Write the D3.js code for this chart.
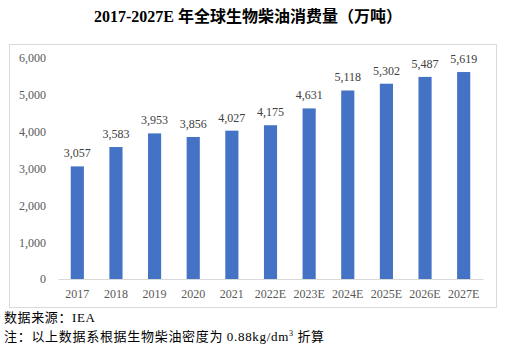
<!DOCTYPE html>
<html><head><meta charset="utf-8">
<script src="https://cdn.jsdelivr.net/npm/d3@7"></script>
<style>
body{margin:0;background:#fff;}
svg{display:block;}
</style></head>
<body>
<script>
const categories = ["2017","2018","2019","2020","2021","2022E","2023E","2024E","2025E","2026E","2027E"];
const values = [3057,3583,3953,3856,4027,4175,4631,5118,5302,5487,5619];
const yTicks = [0,1000,2000,3000,4000,5000,6000];

const W=507,H=350;
const svg=d3.select("body").append("svg").attr("width",W).attr("height",H);
const serif="'Liberation Serif','Times New Roman',serif";
const cjk="'Noto Sans CJK SC',sans-serif";

// title
const t=svg.append("text").attr("x",248).attr("y",22).attr("text-anchor","middle")
  .attr("font-size",16).attr("font-weight","bold").attr("fill","#000");
t.append("tspan").attr("font-family",serif).text("2017-2027E ");
t.append("tspan").attr("font-family",cjk).text("年全球生物柴油消费量（万吨）");

// frame
svg.append("rect").attr("x",9.5).attr("y",44.5).attr("width",487).attr("height",263)
  .attr("fill","none").attr("stroke","#d9d9d9");

const x=d3.scaleBand().domain(categories).range([58,483]).paddingInner(0.66).paddingOuter(0.33);
const y=d3.scaleLinear().domain([0,6000]).range([279,58]);

const yAxis=svg.append("g").attr("transform","translate(52,0)")
  .call(d3.axisLeft(y).tickValues(yTicks).tickSize(0).tickPadding(6).tickFormat(d3.format(",")));
yAxis.select(".domain").remove();
yAxis.selectAll("text").attr("font-family",serif).attr("font-size",12).attr("fill","#595959");

svg.selectAll("rect.bar").data(values).enter().append("rect").attr("class","bar")
  .attr("x",(d,i)=>x(categories[i])).attr("width",x.bandwidth())
  .attr("y",d=>y(d)).attr("height",d=>y(0)-y(d)).attr("fill","#4472C4");

svg.selectAll("text.lbl").data(values).enter().append("text").attr("class","lbl")
  .attr("x",(d,i)=>x(categories[i])+x.bandwidth()/2).attr("y",d=>y(d)-9)
  .attr("text-anchor","middle").attr("font-family",serif).attr("font-size",12).attr("fill","#404040")
  .text(d=>d3.format(",")(d));

const xAxis=svg.append("g").attr("transform","translate(0,279)")
  .call(d3.axisBottom(x).tickSize(0).tickPadding(10));
xAxis.select(".domain").attr("stroke","#d9d9d9");
xAxis.selectAll("text").attr("font-family",serif).attr("font-size",12).attr("fill","#595959");

// footnotes
svg.append("text").attr("x",4).attr("y",322).attr("font-size",13).attr("letter-spacing",0.6).attr("fill","#000")
  .call(s=>{s.append("tspan").attr("font-family",cjk).text("数据来源：");s.append("tspan").attr("font-family",serif).text("IEA");});
const n=svg.append("text").attr("x",4).attr("y",341).attr("font-size",13).attr("letter-spacing",0.7).attr("fill","#000");
n.append("tspan").attr("font-family",cjk).text("注：以上数据系根据生物柴油密度为 ");
n.append("tspan").attr("font-family",serif).text("0.88kg/dm");
n.append("tspan").attr("font-family",serif).attr("font-size",8).attr("dy",-5).text("3");
n.append("tspan").attr("font-family",cjk).attr("dy",5).text(" 折算");
</script>
</body></html>
